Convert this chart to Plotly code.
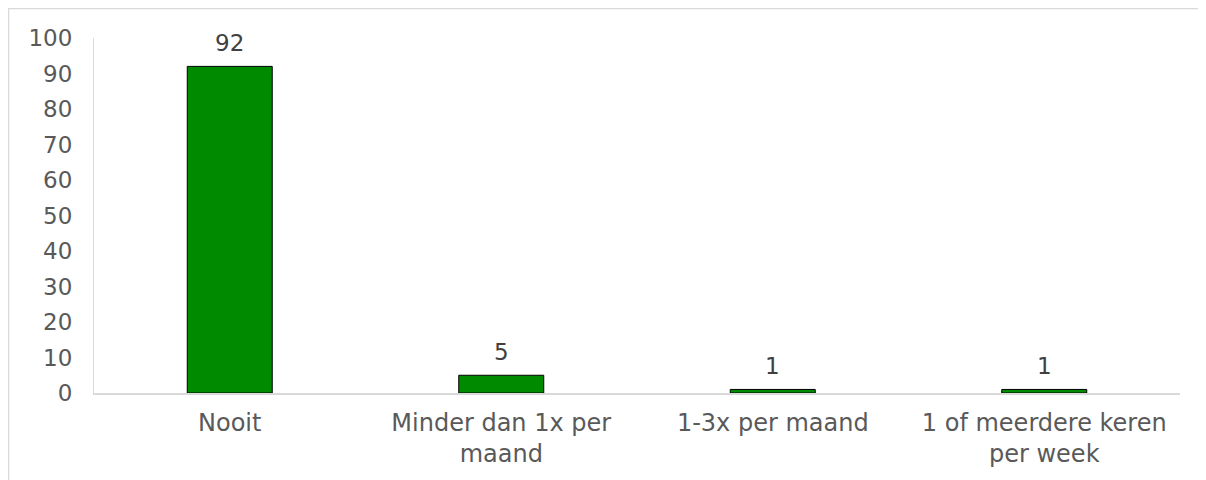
import plotly.graph_objects as go

categories = ["Nooit", "Minder dan 1x per<br>maand", "1-3x per maand", "1 of meerdere keren<br>per week"]
values = [92, 5, 1, 1]
tick_vals = list(range(0, 101, 10))

L, R, T, B = 86, 34, 30, 95
W, H = 1206, 480
pw, ph = W - L - R, H - T - B

def px(x):
    return (x - L) / pw

def py(y):
    return (H - B - y) / ph

fig = go.Figure(go.Bar(
    x=categories, y=values,
    marker=dict(color="#008A00", line=dict(color="#000000", width=1)),
    cliponaxis=False,
))

annotations = [
    dict(x=c, y=v, xref="x", yref="y", text=str(v), showarrow=False,
         yanchor="bottom", yshift=8, font=dict(family="DejaVu Sans", size=23, color="#404040"))
    for c, v in zip(categories, values)
]

fig.update_layout(
    width=W, height=H,
    margin=dict(l=L, r=R, t=T, b=B),
    paper_bgcolor="white", plot_bgcolor="white",
    bargap=0.687,
    showlegend=False,
    font=dict(family="DejaVu Sans", size=23, color="#595959"),
    annotations=annotations,
    xaxis=dict(showline=True, linecolor="#D9D9D9", linewidth=2, showgrid=False,
               tickfont=dict(size=24, color="#595959"), ticks="", ticklabelstandoff=7),
    yaxis=dict(range=[0, 100], tickvals=tick_vals, showgrid=False, zeroline=False,
               showline=True, linecolor="#D9D9D9", linewidth=1,
               tickfont=dict(size=23, color="#595959"), ticks="", ticklabelstandoff=16),
    shapes=[
        dict(type="line", xref="paper", yref="paper", x0=px(0), x1=px(1210), y0=py(0.5), y1=py(0.5),
             line=dict(color="#D9D9D9", width=1.5)),
        dict(type="line", xref="paper", yref="paper", x0=px(0.5), x1=px(0.5), y0=py(0), y1=py(490),
             line=dict(color="#D9D9D9", width=1.5)),
    ],
)

fig.write_html("out.html")
